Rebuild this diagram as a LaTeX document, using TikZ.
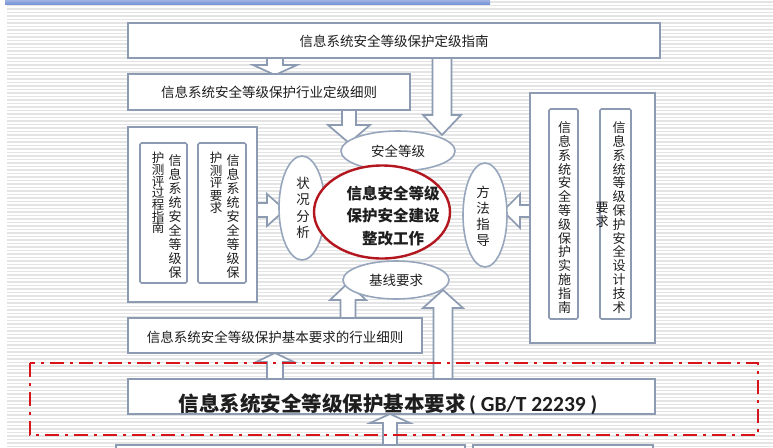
\documentclass[tikz,border=0pt]{standalone}
\usepackage{fontspec}
\setmainfont{Noto Sans CJK SC}
\newfontfamily\latinb{Carlito}
\usetikzlibrary{shapes.geometric}
\definecolor{boxc}{HTML}{8C9BB2}
\definecolor{ellc}{HTML}{97A6BC}
\definecolor{redc}{HTML}{B3161E}
\definecolor{dashc}{HTML}{D7141A}
\definecolor{stripec}{HTML}{E4E4E4}
\definecolor{txtc}{HTML}{1E1E1E}
\definecolor{bluec}{HTML}{7391D6}
\newcommand{\myvarr}[6]{%
  \filldraw[barrow] ({#1-#3},{#2}) -- ({#1-#3},{#4}) -- ({#1-#5},{#4}) -- ({#1},{#6}) -- ({#1+#5},{#4}) -- ({#1+#3},{#4}) -- ({#1+#3},{#2});}
\newcommand{\myharr}[6]{%
  \filldraw[barrow] ({#2},{#1-#3}) -- ({#4},{#1-#3}) -- ({#4},{#1-#5}) -- ({#6},{#1}) -- ({#4},{#1+#5}) -- ({#4},{#1+#3}) -- ({#2},{#1+#3});}
\begin{document}
\begin{tikzpicture}[x=1pt,y=-1pt,
  box/.style={draw=boxc, line width=1.8pt, fill=white, inner sep=0pt, text=txtc},
  ibox/.style={draw=boxc, line width=1.7pt, fill=white, inner sep=0pt, rounded corners=1.5pt},
  barrow/.style={draw=boxc, line width=1.7pt, fill=white, line join=miter},
  ell/.style={ellipse, draw=ellc, line width=1.6pt, fill=white, inner sep=0pt, text=txtc},
  txt/.style={inner sep=0pt, text=txtc, font=\fontsize{13.5}{16}\selectfont},
  vtxt/.style={inner sep=0pt, text=txtc, align=center}
]
\useasboundingbox (0,0) rectangle (773,447);
\fill[white] (0,0) rectangle (773,447);
% background stripes
\foreach \i in {0,...,128} {\fill[stripec] (7,{\i*3.5+1}) rectangle (773,{\i*3.5+2.5});}
% blue bar
\shade[top color=bluec!70!white, bottom color=bluec] (5,0) rectangle (490,4.5);

% block arrows
\myvarr{275}{50}{8}{65}{22}{75}
\myvarr{442}{50}{9.5}{115}{19}{135}
\myvarr{349}{100}{7}{125}{21}{143}
\myharr{210}{250}{7}{267}{16}{285}
\myharr{211}{540}{6}{520}{17}{503}
\myvarr{348}{330}{7.5}{300}{18}{283}
\myvarr{443}{390}{9.5}{308}{20}{290}
\myvarr{275}{390}{8}{362}{19}{353}
\myvarr{390}{460}{7}{423}{20}{414}

% boxes
\node[box, minimum width=532pt, minimum height=35pt] (top) at (394,40.5) {};
\node[txt] (toptxt) at (394,41) {信息系统安全等级保护定级指南};
\node[box, minimum width=282pt, minimum height=36pt] (second) at (269,92) {};
\node[txt] (secondtxt) at (269,92.5) {信息系统安全等级保护行业定级细则};

\node[box, minimum width=129pt, minimum height=175pt] (lbox) at (192.5,214.5) {};
\node[ibox, minimum width=47pt, minimum height=140pt] (l1) at (163.5,213) {};
\node[ibox, minimum width=48pt, minimum height=140pt] (l2) at (222,213) {};
\node[vtxt, font=\fontsize{13}{14.1}\selectfont] (l1a) at (175,216.5) {信\\息\\系\\统\\安\\全\\等\\级\\保};
\node[vtxt, font=\fontsize{12.5}{11.7}\selectfont] (l1b) at (158,193) {护\\测\\评\\过\\程\\指\\南};
\node[vtxt, font=\fontsize{13}{14.1}\selectfont] (l2a) at (233,216.5) {信\\息\\系\\统\\安\\全\\等\\级\\保};
\node[vtxt, font=\fontsize{12.5}{12.5}\selectfont] (l2b) at (216,183) {护\\测\\评\\要\\求};

\node[box, minimum width=125pt, minimum height=250pt] (rbox) at (592.5,218) {};
\node[ibox, minimum width=29pt, minimum height=210pt] (r1) at (563.5,214) {};
\node[ibox, minimum width=31pt, minimum height=210pt] (r2) at (615.5,214) {};
\node[vtxt, font=\fontsize{13}{13.8}\selectfont] (r1a) at (564.5,217.5) {信\\息\\系\\统\\安\\全\\等\\级\\保\\护\\实\\施\\指\\南};
\node[vtxt, font=\fontsize{13}{13.8}\selectfont] (r2a) at (619,217.5) {信\\息\\系\\统\\等\\级\\保\\护\\安\\全\\设\\计\\技\\术};
\node[vtxt, font=\fontsize{13}{14}\selectfont] (r2b) at (602,215) {要\\求};

\node[box, minimum width=294pt, minimum height=35pt] (blbox) at (275,335.5) {};
\node[txt] (bltxt) at (275,337) {信息系统安全等级保护基本要求的行业细则};

\node[box, minimum width=527pt, minimum height=35pt] (big) at (391.5,396.5) {};
\node[inner sep=0pt, text=txtc, font=\bfseries\fontsize{20.5}{24}\selectfont] (bigtxt) at (388,404) {信息系统安全等级保护基本要求{\latinb\fontsize{21.5}{24}\selectfont\bfseries\,( GB/T 22239 )}};

\draw[box] (116,445) rectangle (465,462);
\draw[box] (473,445) rectangle (653,462);

% ellipses
\node[ell, minimum width=114pt, minimum height=40pt, font=\fontsize{13.5}{16}\selectfont] (etop) at (398,151) {安全等级};
\node[ell, minimum width=106pt, minimum height=38pt, font=\fontsize{13.5}{16}\selectfont] (ebot) at (396,280) {基线要求};
\node[ell, minimum width=46pt, minimum height=104pt] (eleft) at (302,208) {};
\node[vtxt, font=\fontsize{13.5}{16.3}\selectfont] (elefttxt) at (303,208) {状\\况\\分\\析};
\node[ell, minimum width=44pt, minimum height=104pt] (eright) at (485,215) {};
\node[vtxt, font=\fontsize{13.5}{16}\selectfont] (erighttxt) at (483,216) {方\\法\\指\\导};
\node[ellipse, draw=redc, line width=2.4pt, fill=white, minimum width=136pt, minimum height=93pt, inner sep=0pt] (core) at (382,212) {};
\node[vtxt, font=\bfseries\fontsize{15.5}{22.5}\selectfont] (coretxt) at (393,216) {信息安全等级\\保护安全建设\\整改工作};

% red dash-dot frame
\draw[dashc, line width=2.4pt, dash pattern=on 14pt off 6pt on 3pt off 6pt] (30,363) rectangle (758,435);
\end{tikzpicture}
\end{document}
